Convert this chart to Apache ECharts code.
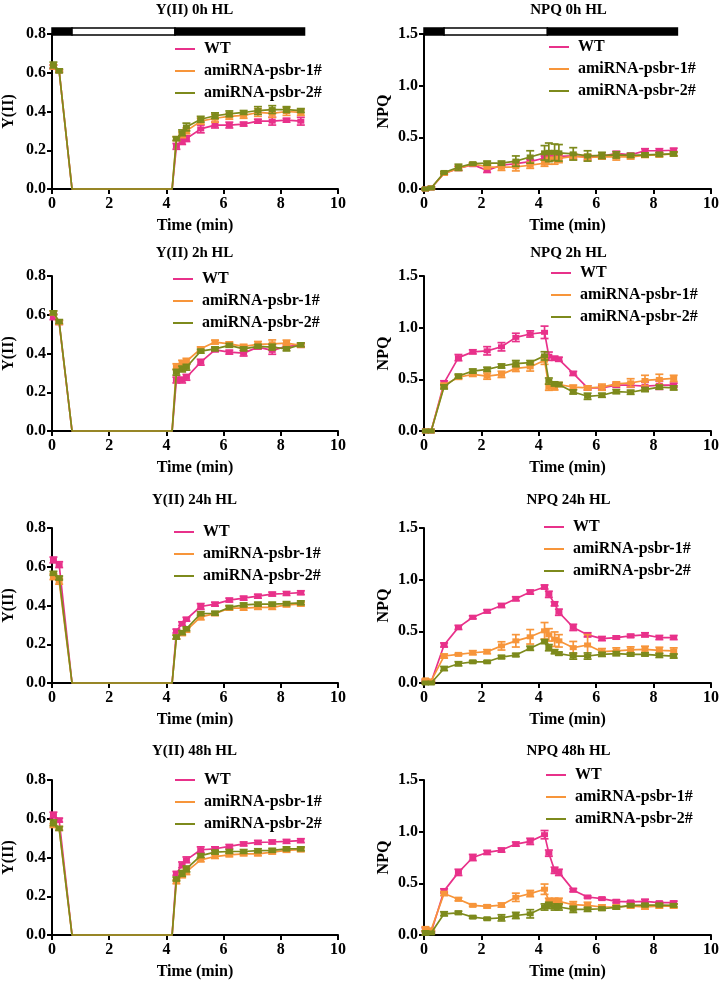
<!DOCTYPE html>
<html><head><meta charset="utf-8">
<script src="https://cdn.jsdelivr.net/npm/echarts@6/dist/echarts.min.js"></script>
<style>html,body{margin:0;padding:0;background:#fff}#c{width:722px;height:981px}</style>
</head><body><div id="c"></div>
<script>
// ---------- DATA ----------
const timeMin = [0.05,0.25,0.7,1.2,1.7,2.2,2.7,3.2,3.7,4.2,4.35,4.55,4.7,5.2,5.7,6.2,6.7,7.2,7.7,8.2,8.7];
const seriesNames = ['WT','amiRNA-psbr-1#','amiRNA-psbr-2#'];
const xTicks = [0,2,4,6,8,10];
const yiiTicks = [0.0,0.2,0.4,0.6,0.8];
const npqTicks = [0.0,0.5,1.0,1.5];
// light regime bar: [start(min), end(min), phase] phase 1=dark, 0=light
const lightPhases = [[0,0.7,1],[0.7,4.3,0],[4.3,8.83,1]];

// Y(II) 0h HL
const y0_WT  = [0.63,0.61,0,0,0,0,0,0,0,0,0.22,0.245,0.26,0.31,0.33,0.33,0.335,0.35,0.35,0.355,0.35];
const y0_A1  = [0.63,0.61,0,0,0,0,0,0,0,0,0.26,0.28,0.30,0.35,0.365,0.375,0.38,0.395,0.39,0.40,0.395];
const y0_A2  = [0.64,0.61,0,0,0,0,0,0,0,0,0.26,0.29,0.32,0.36,0.378,0.388,0.395,0.405,0.41,0.41,0.405];
const y0_WTe = [0.01,0.005,0,0,0,0,0,0,0,0,0.015,0.015,0.015,0.02,0.015,0.015,0.01,0.01,0.02,0.01,0.02];
const y0_A1e = [0.01,0.005,0,0,0,0,0,0,0,0,0.01,0.015,0.015,0.015,0.02,0.015,0.015,0.02,0.02,0.02,0.015];
const y0_A2e = [0.015,0.01,0,0,0,0,0,0,0,0,0.01,0.015,0.02,0.015,0.015,0.015,0.01,0.02,0.02,0.015,0.01];
// NPQ 0h HL
const n0_WT  = [0,0.01,0.15,0.2,0.235,0.18,0.23,0.245,0.265,0.3,0.32,0.32,0.315,0.32,0.31,0.315,0.345,0.33,0.37,0.37,0.375];
const n0_A1  = [0,0.01,0.15,0.2,0.24,0.215,0.21,0.215,0.23,0.25,0.29,0.29,0.295,0.315,0.305,0.31,0.31,0.31,0.325,0.33,0.34];
const n0_A2  = [0,0.01,0.16,0.21,0.245,0.25,0.25,0.27,0.31,0.35,0.355,0.355,0.35,0.34,0.32,0.325,0.33,0.325,0.33,0.335,0.34];
const n0_WTe = [0.01,0.01,0.01,0.02,0.01,0.02,0.015,0.02,0.02,0.02,0.02,0.02,0.02,0.02,0.02,0.02,0.02,0.015,0.02,0.02,0.02];
const n0_A1e = [0.01,0.01,0.01,0.02,0.01,0.02,0.03,0.04,0.03,0.03,0.05,0.05,0.04,0.03,0.03,0.02,0.03,0.02,0.02,0.02,0.02];
const n0_A2e = [0.01,0.01,0.01,0.03,0.01,0.02,0.02,0.05,0.06,0.07,0.09,0.08,0.08,0.06,0.05,0.03,0.03,0.02,0.02,0.02,0.02];
// Y(II) 2h HL
const y2_WT  = [0.59,0.56,0,0,0,0,0,0,0,0,0.263,0.263,0.277,0.355,0.419,0.407,0.402,0.433,0.416,0.437,0.442];
const y2_A1  = [0.61,0.56,0,0,0,0,0,0,0,0,0.332,0.35,0.36,0.424,0.459,0.45,0.437,0.447,0.45,0.454,0.442];
const y2_A2  = [0.61,0.565,0,0,0,0,0,0,0,0,0.303,0.32,0.329,0.412,0.424,0.442,0.424,0.437,0.433,0.424,0.445];
const y2_WTe = [0.015,0.01,0,0,0,0,0,0,0,0,0.015,0.015,0.015,0.015,0.01,0.01,0.015,0.01,0.02,0.01,0.01];
const y2_A1e = [0.01,0.01,0,0,0,0,0,0,0,0,0.015,0.015,0.015,0.01,0.01,0.01,0.01,0.015,0.02,0.015,0.01];
const y2_A2e = [0.01,0.01,0,0,0,0,0,0,0,0,0.015,0.015,0.015,0.01,0.01,0.01,0.01,0.01,0.015,0.01,0.01];
// NPQ 2h HL
const n2_WT  = [0,0,0.466,0.71,0.766,0.776,0.815,0.906,0.939,0.955,0.724,0.704,0.694,0.557,0.417,0.417,0.443,0.443,0.434,0.443,0.443];
const n2_A1  = [0,0,0.443,0.52,0.548,0.531,0.548,0.606,0.62,0.685,0.424,0.417,0.45,0.424,0.417,0.424,0.456,0.466,0.489,0.499,0.509];
const n2_A2  = [0,0,0.427,0.531,0.58,0.597,0.629,0.652,0.662,0.727,0.483,0.456,0.45,0.378,0.336,0.346,0.381,0.375,0.401,0.424,0.417];
const n2_WTe = [0,0,0.02,0.03,0.02,0.04,0.04,0.04,0.03,0.06,0.04,0.02,0.02,0.02,0.02,0.02,0.02,0.02,0.04,0.04,0.02];
const n2_A1e = [0,0,0.02,0.02,0.02,0.03,0.03,0.03,0.04,0.04,0.03,0.02,0.02,0.02,0.02,0.03,0.02,0.04,0.05,0.05,0.03];
const n2_A2e = [0,0,0.02,0.02,0.02,0.02,0.02,0.03,0.02,0.04,0.03,0.02,0.02,0.02,0.03,0.02,0.02,0.02,0.02,0.02,0.02];
// Y(II) 24h HL
const y24_WT  = [0.635,0.611,0,0,0,0,0,0,0,0,0.268,0.306,0.329,0.395,0.407,0.428,0.438,0.448,0.459,0.462,0.466];
const y24_A1  = [0.549,0.525,0,0,0,0,0,0,0,0,0.237,0.255,0.272,0.341,0.358,0.386,0.386,0.39,0.39,0.403,0.407];
const y24_A2  = [0.566,0.542,0,0,0,0,0,0,0,0,0.237,0.26,0.28,0.358,0.36,0.39,0.403,0.407,0.407,0.41,0.414];
const y24_WTe = [0.015,0.015,0,0,0,0,0,0,0,0,0.01,0.01,0.01,0.015,0.01,0.01,0.01,0.01,0.01,0.01,0.01];
const y24_A1e = [0.015,0.015,0,0,0,0,0,0,0,0,0.01,0.01,0.01,0.015,0.01,0.01,0.01,0.01,0.01,0.01,0.01];
const y24_A2e = [0.01,0.01,0,0,0,0,0,0,0,0,0.01,0.01,0.01,0.01,0.01,0.01,0.01,0.01,0.01,0.01,0.01];
// NPQ 24h HL
const n24_WT  = [0.02,0.01,0.368,0.538,0.636,0.694,0.75,0.815,0.88,0.929,0.858,0.766,0.685,0.538,0.466,0.43,0.44,0.456,0.466,0.44,0.44];
const n24_A1  = [0.03,0.02,0.261,0.277,0.293,0.303,0.359,0.408,0.447,0.505,0.466,0.424,0.408,0.342,0.368,0.303,0.31,0.32,0.326,0.316,0.31];
const n24_A2  = [0,0,0.14,0.186,0.205,0.205,0.251,0.271,0.336,0.401,0.342,0.303,0.284,0.261,0.261,0.277,0.284,0.277,0.277,0.267,0.261];
const n24_WTe = [0.01,0.01,0.02,0.02,0.015,0.015,0.02,0.02,0.02,0.02,0.03,0.02,0.03,0.03,0.02,0.02,0.015,0.015,0.02,0.02,0.02];
const n24_A1e = [0.01,0.01,0.02,0.01,0.02,0.02,0.04,0.06,0.07,0.08,0.06,0.07,0.06,0.06,0.1,0.03,0.03,0.03,0.03,0.03,0.03];
const n24_A2e = [0.01,0.01,0.02,0.02,0.01,0.01,0.015,0.015,0.02,0.02,0.03,0.02,0.015,0.03,0.03,0.02,0.02,0.015,0.015,0.02,0.02];
// Y(II) 48h HL
const y48_WT  = [0.619,0.593,0,0,0,0,0,0,0,0,0.318,0.362,0.388,0.44,0.445,0.457,0.47,0.478,0.48,0.483,0.487];
const y48_A1  = [0.565,0.55,0,0,0,0,0,0,0,0,0.275,0.306,0.327,0.388,0.405,0.414,0.419,0.419,0.428,0.437,0.44];
const y48_A2  = [0.579,0.55,0,0,0,0,0,0,0,0,0.289,0.318,0.341,0.41,0.428,0.431,0.431,0.435,0.437,0.445,0.445];
const y48_WTe = [0.015,0.01,0,0,0,0,0,0,0,0,0.01,0.015,0.015,0.015,0.01,0.01,0.01,0.01,0.01,0.01,0.01];
const y48_A1e = [0.01,0.01,0,0,0,0,0,0,0,0,0.01,0.01,0.015,0.01,0.01,0.01,0.01,0.01,0.01,0.01,0.01];
const y48_A2e = [0.015,0.01,0,0,0,0,0,0,0,0,0.01,0.015,0.015,0.01,0.01,0.01,0.01,0.01,0.01,0.01,0.01];
// NPQ 48h HL
const n48_WT  = [0.05,0.03,0.427,0.606,0.75,0.799,0.822,0.88,0.906,0.971,0.792,0.626,0.606,0.434,0.368,0.352,0.326,0.32,0.326,0.313,0.313];
const n48_A1  = [0.06,0.05,0.401,0.346,0.287,0.277,0.29,0.365,0.401,0.443,0.326,0.326,0.326,0.293,0.287,0.271,0.271,0.28,0.271,0.28,0.28];
const n48_A2  = [0.02,0.02,0.205,0.215,0.173,0.157,0.166,0.189,0.205,0.271,0.287,0.271,0.271,0.248,0.248,0.254,0.267,0.287,0.29,0.29,0.287];
const n48_WTe = [0.02,0.01,0.02,0.03,0.03,0.02,0.02,0.02,0.03,0.04,0.03,0.03,0.03,0.015,0.01,0.01,0.015,0.01,0.02,0.01,0.015];
const n48_A1e = [0.02,0.01,0.02,0.015,0.01,0.015,0.02,0.04,0.03,0.05,0.03,0.03,0.03,0.03,0.03,0.02,0.02,0.02,0.02,0.02,0.02];
const n48_A2e = [0.02,0.01,0.02,0.015,0.01,0.01,0.03,0.03,0.04,0.03,0.03,0.03,0.03,0.03,0.02,0.015,0.015,0.015,0.015,0.015,0.015];

// ---------- LAYOUT / STYLE ----------
const colors = ['#E8318A','#F7953A','#7D8A1C'];
const FONT = '"Liberation Serif","Times New Roman",serif';
const gridLeft = [51, 424], gridWidth = [287, 289];
const gridTop = [34, 276, 528, 780], gridH = 155;
const titleTop = [3, 246, 493, 744];

const panels = [
  {title:'Y(II) 0h HL', kind:'yii', data:[y0_WT,y0_A1,y0_A2], err:[y0_WTe,y0_A1e,y0_A2e], leg:[175,41], bar:true},
  {title:'NPQ 0h HL', kind:'npq', data:[n0_WT,n0_A1,n0_A2], err:[n0_WTe,n0_A1e,n0_A2e], leg:[549,39], bar:true},
  {title:'Y(II) 2h HL', kind:'yii', data:[y2_WT,y2_A1,y2_A2], err:[y2_WTe,y2_A1e,y2_A2e], leg:[173,271]},
  {title:'NPQ 2h HL', kind:'npq', data:[n2_WT,n2_A1,n2_A2], err:[n2_WTe,n2_A1e,n2_A2e], leg:[551,265]},
  {title:'Y(II) 24h HL', kind:'yii', data:[y24_WT,y24_A1,y24_A2], err:[y24_WTe,y24_A1e,y24_A2e], leg:[174,524]},
  {title:'NPQ 24h HL', kind:'npq', data:[n24_WT,n24_A1,n24_A2], err:[n24_WTe,n24_A1e,n24_A2e], leg:[544,519]},
  {title:'Y(II) 48h HL', kind:'yii', data:[y48_WT,y48_A1,y48_A2], err:[y48_WTe,y48_A1e,y48_A2e], leg:[175,772]},
  {title:'NPQ 48h HL', kind:'npq', data:[n48_WT,n48_A1,n48_A2], err:[n48_WTe,n48_A1e,n48_A2e], leg:[546,767]}
];

const grids=[], xAxes=[], yAxes=[], series=[], titles=[], legends=[];
panels.forEach((p, i) => {
  const col = i % 2, row = Math.floor(i / 2);
  const ticks = p.kind === 'yii' ? yiiTicks : npqTicks;
  const ymax = ticks[ticks.length-1];
  grids.push({left: gridLeft[col], top: gridTop[row], width: gridWidth[col], height: gridH, containLabel:false});
  const axisCommon = {
    axisLine:{show:true, onZero:false, lineStyle:{color:'#000', width:2}},
    axisTick:{show:true, inside:false, length:5, lineStyle:{color:'#000', width:2}},
    splitLine:{show:false},
    nameTextStyle:{fontFamily:FONT, fontWeight:'bold', fontSize:16, color:'#000'}
  };
  xAxes.push(Object.assign({}, axisCommon, {
    type:'value', gridIndex:i, min:xTicks[0], max:xTicks[xTicks.length-1], interval:xTicks[1]-xTicks[0],
    name:'Time (min)', nameLocation:'middle', nameGap:29,
    axisLabel:{fontFamily:FONT, fontWeight:'bold', fontSize:16, color:'#000', margin:7}
  }));
  yAxes.push(Object.assign({}, axisCommon, {
    type:'value', gridIndex:i, min:ticks[0], max:ymax, interval:ticks[1]-ticks[0],
    name: p.kind === 'yii' ? 'Y(II)' : 'NPQ', nameLocation:'middle', nameGap: p.kind==='yii'?35:32,
    axisLabel:{fontFamily:FONT, fontWeight:'bold', fontSize:16, color:'#000', margin:6,
      formatter: v => v.toFixed(1)}
  }));
  titles.push({text:p.title, left: gridLeft[col] + gridWidth[col]/2, top: titleTop[row], textAlign:'center', padding:0,
    textStyle:{fontFamily:FONT, fontWeight:'bold', fontSize:15, color:'#000'}});
  legends.push({orient:'vertical', left:p.leg[0], top:p.leg[1], data:seriesNames, icon:'rect', itemWidth:20, itemHeight:2,
    itemGap:6, selectedMode:false, padding:0,
    textStyle:{fontFamily:FONT, fontWeight:'bold', fontSize:16, color:'#000', padding:[0,0,0,4]}});
  if (p.bar) {
    series.push({type:'custom', xAxisIndex:i, yAxisIndex:i, silent:true, z:5,
      data: lightPhases.map(ph => [ph[0], ph[1], ymax, ph[2]]),
      encode:{x:[0,1], y:2},
      renderItem:(params, api) => {
        const a = api.coord([api.value(0), api.value(2)]);
        const b = api.coord([api.value(1), api.value(2)]);
        const dark = api.value(3) === 1;
        return {type:'rect', shape:{x:a[0], y:a[1]-6, width:b[0]-a[0], height:7},
          style:{fill: dark ? '#000' : '#fff', stroke:'#000', lineWidth:1.5}};
      }});
  }
  const hideZero = p.kind === 'yii';
  p.data.forEach((vals, k) => {
    series.push({type:'line', name:seriesNames[k], xAxisIndex:i, yAxisIndex:i,
      data: timeMin.map((t, j) => [t, vals[j]]), clip:false,
      color: colors[k], symbol:'rect',
      symbolSize: (v) => (hideZero && v[1] === 0) ? 0 : [7,5], showSymbol:true,
      lineStyle:{width:1.7, color:colors[k]}, itemStyle:{color:colors[k]}, z:3+k, animation:false});
    series.push({type:'custom', xAxisIndex:i, yAxisIndex:i, silent:true, z:3+k,
      data: timeMin.map((t, j) => [t, vals[j], p.err[k][j]]),
      encode:{x:0, y:1},
      renderItem:(params, api) => {
        const e = api.value(2);
        if (!e) return null;
        const x = api.value(0), y = api.value(1);
        const hi = api.coord([x, y + e]), lo = api.coord([x, y - e]);
        const w = 4;
        const st = {stroke: colors[k], lineWidth: 1.7};
        return {type:'group', children:[
          {type:'line', shape:{x1:hi[0], y1:hi[1], x2:lo[0], y2:lo[1]}, style:st},
          {type:'line', shape:{x1:hi[0]-w, y1:hi[1], x2:hi[0]+w, y2:hi[1]}, style:st},
          {type:'line', shape:{x1:lo[0]-w, y1:lo[1], x2:lo[0]+w, y2:lo[1]}, style:st}
        ]};
      }});
  });
});

const chart = echarts.init(document.getElementById('c'), null, {renderer:'canvas'});
chart.setOption({
  animation:false, backgroundColor:'#fff',
  title: titles, legend: legends, grid: grids, xAxis: xAxes, yAxis: yAxes, series: series
});
</script></body></html>
